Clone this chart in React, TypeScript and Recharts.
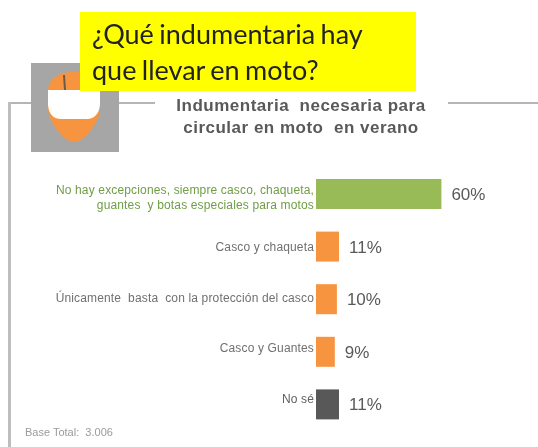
import { BarChart, Bar, XAxis, YAxis, Cell, LabelList } from "recharts";

const categories = [
  "No hay excepciones, siempre casco, chaqueta,\nguantes  y botas especiales para motos",
  "Casco y chaqueta",
  "Únicamente  basta  con la protección del casco",
  "Casco y Guantes",
  "No sé",
];
const values = [60, 11, 10, 9, 11];
const barColors = ["#98bb58", "#f79440", "#f79440", "#f79440", "#585858"];
const labelColors = ["#6f9e45", "#707070", "#707070", "#707070", "#606060"];
const labelNudge = [3, 0, -2, -4, -6];

const data = categories.map((name, i) => ({ name, value: values[i] }));

const CategoryTick = ({ x, y, payload, index }: any) => {
  const lines = String(payload.value).split("\n");
  const top = y + labelNudge[index] - ((lines.length - 1) * 15) / 2;
  return (
    <text
      textAnchor="end"
      fontFamily="'Liberation Sans', Arial, sans-serif"
      fontSize={12}
      letterSpacing={0.15}
      fill={labelColors[index]}
      style={{ whiteSpace: "pre" }}
    >
      {lines.map((line, i) => (
        <tspan key={i} x={x + 6} y={top + i * 15 + 4}>
          {line}
        </tspan>
      ))}
    </text>
  );
};

const Helmet = () => (
  <svg width={88} height={89} style={{ position: "absolute", left: 31, top: 63 }}>
    <rect width={88} height={89} fill="#a6a6a6" />
    <path
      d="M17 27 C18 14 30 9 43 9 C58 9 68 16 69 27 L69 48 C66 62 53 79 43 79 C33 79 20 62 17 48 Z"
      fill="#f79440"
    />
    <path d="M33 12 L34 27" stroke="#6b5a48" strokeWidth={2} />
    <path d="M17 27 L69 27 L69 42 C68 52 62 56 56 56 L30 56 C23 56 18 52 17 42 Z" fill="#ffffff" />
  </svg>
);

export default function App() {
  return (
    <div
      style={{
        position: "absolute",
        left: 0,
        top: 0,
        width: 538,
        height: 447,
        overflow: "hidden",
        background: "#fff",
        filter: "blur(0.6px)",
        fontFamily: "'Liberation Sans', Arial, sans-serif",
      }}
    >
      {/* frame */}
      <div style={{ position: "absolute", left: 8, top: 102, width: 147, height: 2, background: "#b5b5b5" }} />
      <div style={{ position: "absolute", left: 448, top: 102, width: 90, height: 2, background: "#b5b5b5" }} />
      <div style={{ position: "absolute", left: 8, top: 102, width: 3, height: 345, background: "#bdbdbd" }} />

      <Helmet />

      <div
        style={{
          position: "absolute",
          left: 80,
          top: 12,
          width: 336,
          height: 79,
          background: "#ffff00",
          color: "#222",
          fontFamily: "Lato, sans-serif",
          fontSize: 27,
          wordSpacing: -1.5,
          lineHeight: "36px",
          paddingLeft: 12,
          paddingTop: 4,
          boxSizing: "border-box",
        }}
      >
        ¿Qué indumentaria hay
        <br />
        que llevar en moto?
      </div>

      <div
        style={{
          position: "absolute",
          left: 151,
          top: 95,
          width: 300,
          textAlign: "center",
          color: "#595959",
          fontWeight: 700,
          fontSize: 17,
          letterSpacing: 0.5,
          lineHeight: "22px",
          whiteSpace: "pre",
        }}
      >
        {"Indumentaria  necesaria para\ncircular en moto  en verano"}
      </div>

      <div style={{ position: "absolute", left: 0, top: 0 }}>
        <BarChart
          width={538}
          height={447}
          data={data}
          layout="vertical"
          margin={{ top: 168, right: 13, bottom: 16, left: 0 }}
        >
          <XAxis type="number" domain={[0, 100]} hide />
          <YAxis
            type="category"
            dataKey="name"
            width={316}
            axisLine={false}
            tickLine={false}
            interval={0}
            tick={<CategoryTick />}
          />
          <Bar dataKey="value" barSize={30} isAnimationActive={false}>
            {data.map((d, i) => (
              <Cell key={d.name} fill={barColors[i]} />
            ))}
            <LabelList
              dataKey="value"
              position="right"
              offset={10}
              formatter={(v: any) => `${v}%`}
              style={{ fontSize: 17, fill: "#595959", fontFamily: "'Liberation Sans', Arial, sans-serif" }}
            />
          </Bar>
        </BarChart>
      </div>

      <div style={{ position: "absolute", left: 25, top: 426, fontSize: 11, color: "#9a9a9a", whiteSpace: "pre" }}>
        {"Base Total:  3.006"}
      </div>
    </div>
  );
}
